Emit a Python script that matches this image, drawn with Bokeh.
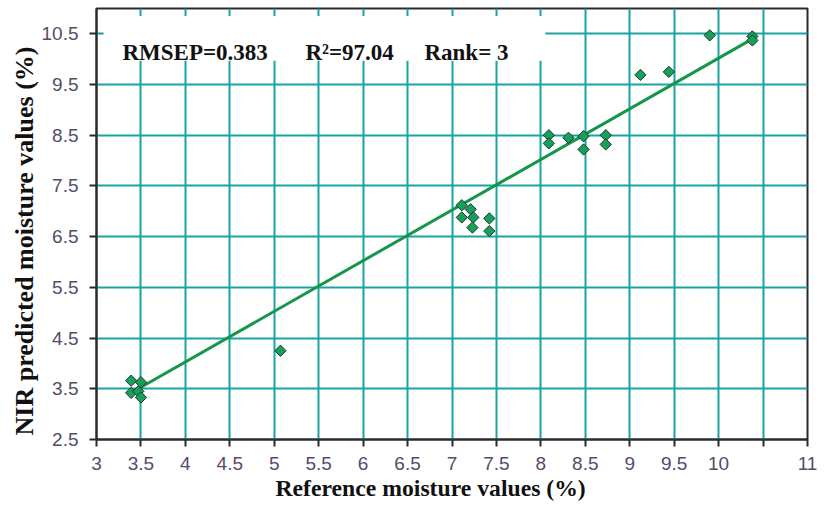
import numpy as np
from bokeh.plotting import figure
from bokeh.models import Range1d, FixedTicker, Label, BoxAnnotation, ColumnDataSource, Title
from bokeh.embed import file_html
from bokeh.resources import INLINE

# ---- data ----
ref_moisture = [3.39, 3.50, 3.39, 3.47, 3.50, 5.07, 7.11, 7.21, 7.11, 7.24, 7.23, 7.42, 7.42,
                8.09, 8.09, 8.31, 8.48, 8.48, 8.73, 8.73, 9.12, 9.44, 9.90, 10.38, 10.38]
nir_predicted = [3.66, 3.63, 3.42, 3.45, 3.33, 4.25, 7.12, 7.04, 6.88, 6.88, 6.68, 6.86, 6.61,
                 8.50, 8.34, 8.45, 8.48, 8.22, 8.50, 8.32, 9.69, 9.75, 10.47, 10.45, 10.37]
fit_x = [3.50, 10.40]
fit_y = [3.53, 10.42]

x_ticks = [3, 3.5, 4, 4.5, 5, 5.5, 6, 6.5, 7, 7.5, 8, 8.5, 9, 9.5, 10, 10.5, 11]
x_tick_labels = ["3", "3.5", "4", "4.5", "5", "5.5", "6", "6.5", "7", "7.5", "8", "8.5",
                 "9", "9.5", "10", "", "11"]
y_ticks = [2.5, 3.5, 4.5, 5.5, 6.5, 7.5, 8.5, 9.5, 10.5]
y_tick_labels = ["2.5", "3.5", "4.5", "5.5", "6.5", "7.5", "8.5", "9.5", "10.5"]

stat_texts = ["RMSEP=0.383", "R\u00b2=97.04", "Rank= 3"]
x_title = "Reference moisture values (%)"
y_title = "NIR predicted moisture values (%)"

GRID = "#1aa3a3"
AXIS = "#2b2b2b"
TICKTXT = "#574a6a"

p = figure(width=821, height=503, output_backend="svg", toolbar_location=None,
           x_range=Range1d(3, 11), y_range=Range1d(2.5, 11),
           min_border_left=96, min_border_right=14, min_border_top=8, min_border_bottom=64)
p.background_fill_color = "white"
p.border_fill_color = "white"
p.outline_line_color = AXIS
p.outline_line_width = 2
p.outline_line_alpha = 1

for ax, ticks, labels in ((p.xaxis, x_ticks, x_tick_labels), (p.yaxis, y_ticks, y_tick_labels)):
    ax.ticker = FixedTicker(ticks=ticks)
    ax.major_label_overrides = {t: l for t, l in zip(ticks, labels)}
    ax.minor_tick_line_color = None
    ax.major_tick_in = 0
    ax.major_tick_out = 7
    ax.major_tick_line_width = 2
    ax.major_tick_line_color = AXIS
    ax.axis_line_color = AXIS
    ax.axis_line_width = 2
    ax.major_label_text_font = "Liberation Sans"
    ax.major_label_text_font_size = "19px"
    ax.major_label_text_color = TICKTXT
p.xaxis.major_label_standoff = 10
p.yaxis.major_label_standoff = 11

p.xgrid.ticker = FixedTicker(ticks=x_ticks)
p.ygrid.ticker = FixedTicker(ticks=y_ticks)
for g in (p.xgrid, p.ygrid):
    g.grid_line_color = GRID
    g.grid_line_width = 2
    g.grid_line_alpha = 1

# fitted line
p.line(fit_x, fit_y, line_color="#15964a", line_width=3)

# points
src = ColumnDataSource(dict(x=ref_moisture, y=nir_predicted))
p.scatter("x", "y", source=src, marker="square", angle=np.pi / 4, size=8,
          fill_color="#16a05c", line_color="#24332b", line_width=1)

# stats box
p.add_layout(BoxAnnotation(left=3.08, right=8.05, bottom=9.97, top=10.85,
                           fill_color="white", fill_alpha=1, line_color=None))
stat_x = [3.292, 5.351, 6.69]
for sx, t in zip(stat_x, stat_texts):
    p.add_layout(Label(x=sx, y=10.124, text=t, text_font="Liberation Serif",
                       text_font_style="bold", text_font_size="23px",
                       text_color="#111111", text_baseline="alphabetic", text_align="left"))

# axis titles
p.add_layout(Title(text=x_title, align="left", offset=179,
                   text_font="Liberation Serif", text_font_style="bold",
                   text_font_size="23.7px", text_color="#111111", standoff=0), "below")
p.add_layout(Title(text=y_title, align="left", offset=4,
                   text_font="Liberation Serif", text_font_style="bold",
                   text_font_size="26px", text_color="#111111", standoff=0), "left")

open("out.html", "w").write(file_html(p, INLINE))
